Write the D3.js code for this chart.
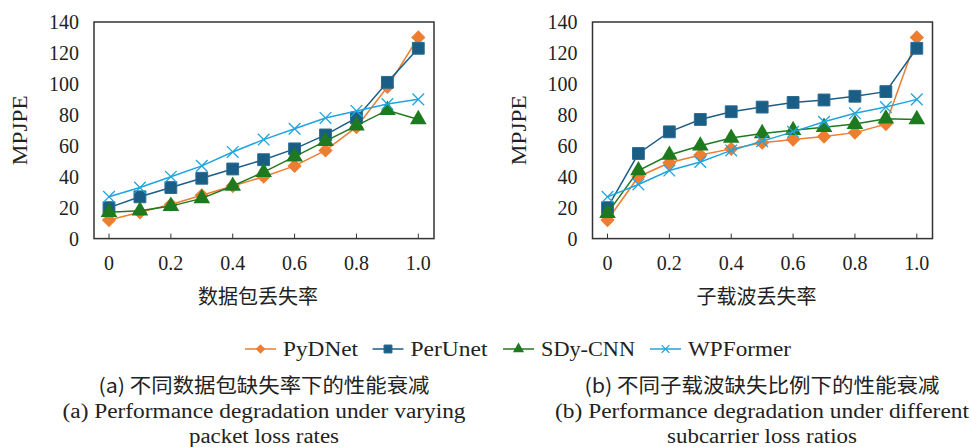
<!DOCTYPE html>
<html>
<head>
<meta charset="utf-8">
<script src="https://cdn.jsdelivr.net/npm/d3@7"></script>
<style>
  body { margin: 0; background: #fff; }
  svg text { font-family: "Liberation Serif", "DejaVu Serif", serif; fill: #222; }
  svg text.cjk { font-family: "Noto Sans CJK SC", sans-serif; }
</style>
</head>
<body>
<div id="chart"></div>
<script>
const width = 971;
const height = 447;

const lossRates = [0, 0.1, 0.2, 0.3, 0.4, 0.5, 0.6, 0.7, 0.8, 0.9, 1.0];
const xTicks = [0, 0.2, 0.4, 0.6, 0.8, 1.0];
const xTickLabels = ["0", "0.2", "0.4", "0.6", "0.8", "1.0"];
const yTicks = [0, 20, 40, 60, 80, 100, 120, 140];

const seriesNames = ["PyDNet", "PerUnet", "SDy-CNN", "WPFormer"];

// (a) packet loss
const packetPyDNet = [12, 17, 22, 28, 34, 40, 47, 57, 72, 98, 130];
const packetPerUnet = [20, 27, 33, 39, 45, 51, 58, 67, 78, 101, 123];
const packetSDyCNN = [17, 18, 21, 26, 34, 43, 53, 63, 73, 83, 77];
const packetWPFormer = [27, 33, 40, 47, 56, 64, 71, 78, 82.5, 87, 90];

// (b) subcarrier loss
const subPyDNet = [12, 40, 49, 54, 58, 62, 64, 66, 68.5, 74, 130];
const subPerUnet = [20, 55, 69, 77, 82, 85, 88, 89.6, 92, 95, 123];
const subSDyCNN = [16.5, 44, 54, 60, 65, 68, 70, 72, 74, 77.5, 77];
const subWPFormer = [27, 35, 44, 49.5, 57, 63, 69, 75.5, 81, 85, 90];

const colors = ["#ED7D31", "#1B5E85", "#1E7A1E", "#1FA4DF"];
const symbols = [d3.symbolDiamond2, d3.symbolSquare, d3.symbolTriangle, d3.symbolX];
const serif = "'Liberation Serif', 'DejaVu Serif', serif";

const svg = d3.select("#chart").append("svg")
  .attr("width", width)
  .attr("height", height);

const y = d3.scaleLinear().domain([0, 140]).range([238.6, 22]);

function marker(sel, i, scale) {
  const sizes = [130, 140, 120, 90];
  const path = sel.append("path")
    .attr("d", d3.symbol().type(symbols[i]).size(sizes[i] * scale)());
  if (i === 3) {
    path.attr("fill", "none").attr("stroke", colors[i]).attr("stroke-width", 1.3);
  } else {
    path.attr("fill", colors[i]);
    if (i === 1) path.attr("stroke", "#2a6b92").attr("stroke-width", 1);
  }
  return path;
}

function drawPanel(left, series, xTitle) {
  const frameW = 340;
  const g = svg.append("g");
  const x = d3.scaleLinear().domain([0, 1]).range([left + 15, left + frameW - 15.7]);

  // y tick labels
  g.selectAll(".ylab").data(yTicks).enter().append("text")
    .attr("x", left - 15)
    .attr("y", d => y(d))
    .attr("dy", "0.35em")
    .attr("text-anchor", "end")
    .attr("font-family", serif)
    .style("font-size", "20px")
    .text(d => d);

  // x ticks (inward) and labels
  g.selectAll(".xtick").data(xTicks).enter().append("line")
    .attr("x1", d => x(d)).attr("x2", d => x(d))
    .attr("y1", y(0)).attr("y2", y(0) - 5)
    .attr("stroke", "#333").attr("stroke-width", 1);

  g.selectAll(".xlab").data(xTicks).enter().append("text")
    .attr("x", d => x(d))
    .attr("y", 270)
    .attr("text-anchor", "middle")
    .attr("font-family", serif)
    .style("font-size", "20px")
    .text((d, i) => xTickLabels[i]);

  // frame
  g.append("rect")
    .attr("x", left).attr("y", y(140))
    .attr("width", frameW).attr("height", y(0) - y(140))
    .attr("fill", "none").attr("stroke", "#333").attr("stroke-width", 1.5);

  // y title
  g.append("text")
    .attr("transform", `translate(${left - 74},${(y(0) + y(140)) / 2}) rotate(-90)`)
    .attr("text-anchor", "middle")
    .attr("dy", "0.35em")
    .attr("font-family", serif)
    .style("font-size", "20px")
    .attr("textLength", 70)
    .attr("lengthAdjust", "spacingAndGlyphs")
    .text("MPJPE");

  // x title
  g.append("text")
    .attr("class", "cjk")
    .attr("x", left + frameW / 2 - 6)
    .attr("y", 297)
    .attr("dy", "0.35em")
    .attr("text-anchor", "middle")
    .style("font-size", "20px")
    .text(xTitle);

  const line = d3.line().x((d, i) => x(lossRates[i])).y(d => y(d));

  series.forEach((vals, si) => {
    g.append("path")
      .datum(vals)
      .attr("d", line)
      .attr("fill", "none")
      .attr("stroke", colors[si])
      .attr("stroke-width", 1.5);
    vals.forEach((v, i) => {
      const m = g.append("g").attr("transform", `translate(${x(lossRates[i])},${y(v)})`);
      marker(m, si, 1);
    });
  });
}

drawPanel(94, [packetPyDNet, packetPerUnet, packetSDyCNN, packetWPFormer], "数据包丢失率");
drawPanel(592.5, [subPyDNet, subPerUnet, subSDyCNN, subWPFormer], "子载波丢失率");

// legend
const legendStarts = [245, 372.5, 503, 650];
const legendTextW = [75, 77, 94, 103];
const legend = svg.append("g");
seriesNames.forEach((name, i) => {
  const lx = legendStarts[i];
  const it = legend.append("g");
  it.append("line")
    .attr("x1", lx).attr("x2", lx + 31)
    .attr("y1", 349).attr("y2", 349)
    .attr("stroke", colors[i]).attr("stroke-width", 1.5);
  const m = it.append("g").attr("transform", `translate(${lx + 15.5},349)`);
  marker(m, i, 0.45);
  it.append("text")
    .attr("x", lx + 38)
    .attr("y", 349)
    .attr("dy", "0.35em")
    .attr("font-family", serif)
    .style("font-size", "20px")
    .attr("textLength", legendTextW[i])
    .attr("lengthAdjust", "spacingAndGlyphs")
    .text(name);
});

// captions
const captionsA = ["(a) 不同数据包缺失率下的性能衰减", "(a) Performance degradation under varying", "packet loss rates"];
const captionsB = ["(b) 不同子载波缺失比例下的性能衰减", "(b) Performance degradation under different", "subcarrier loss ratios"];

function caption(cx, lines, widths) {
  svg.append("text")
    .attr("class", "cjk")
    .attr("x", cx).attr("y", 386).attr("dy", "0.35em")
    .attr("text-anchor", "middle")
    .style("font-size", "20px")
    .attr("textLength", widths[0])
    .attr("lengthAdjust", "spacingAndGlyphs")
    .text(lines[0]);
  svg.append("text")
    .attr("x", cx).attr("y", 418)
    .attr("text-anchor", "middle")
    .attr("font-family", serif)
    .style("font-size", "20px")
    .attr("textLength", widths[1])
    .attr("lengthAdjust", "spacingAndGlyphs")
    .text(lines[1]);
  svg.append("text")
    .attr("x", cx).attr("y", 443)
    .attr("text-anchor", "middle")
    .attr("font-family", serif)
    .style("font-size", "20px")
    .attr("textLength", widths[2])
    .attr("lengthAdjust", "spacingAndGlyphs")
    .text(lines[2]);
}
caption(264, captionsA, [331, 403, 150]);
caption(762, captionsB, [355, 414, 190]);
</script>
</body>
</html>
